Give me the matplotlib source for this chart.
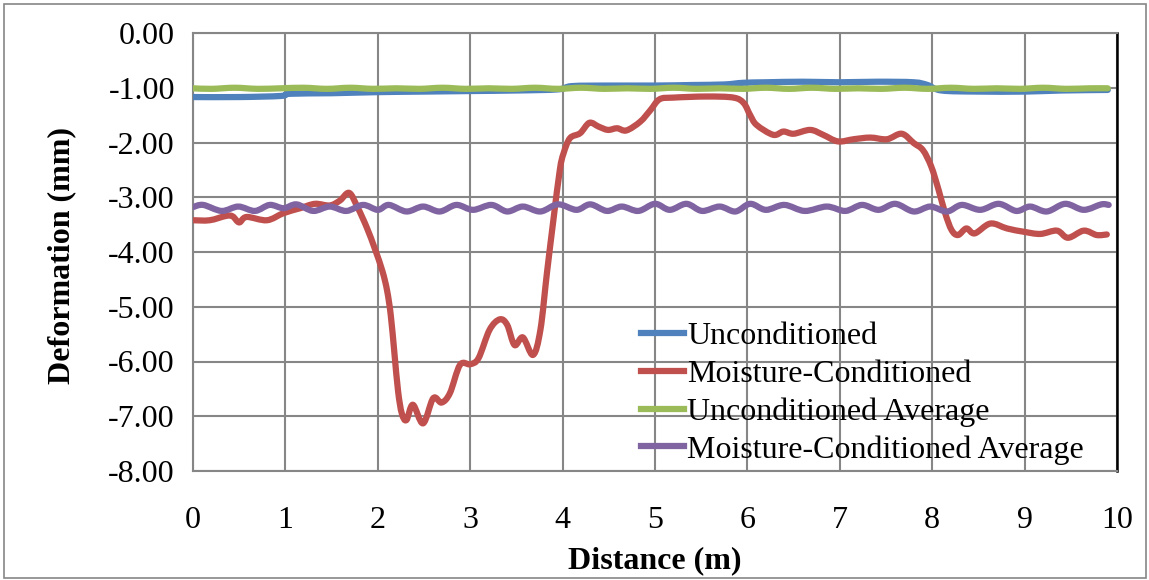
import matplotlib
matplotlib.use("Agg")
import matplotlib.pyplot as plt
import numpy as np
from matplotlib.path import Path
from matplotlib.patches import PathPatch, Rectangle
from matplotlib.lines import Line2D

# ---- data -------------------------------------------------------------
unc_x = [0.0, 0.5, 0.95, 1.05, 1.5, 2.0, 2.5, 3.0, 3.5, 3.95, 4.1, 4.5, 5.0,
         5.4, 5.75, 5.95, 6.2, 6.6, 7.0, 7.4, 7.8, 7.95, 8.1, 8.5, 9.0, 9.4, 9.9]
unc_y = [-1.17, -1.17, -1.15, -1.11, -1.10, -1.08, -1.07, -1.06, -1.05, -1.03,
         -0.97, -0.96, -0.96, -0.95, -0.94, -0.91, -0.90, -0.89, -0.90, -0.89,
         -0.90, -0.95, -1.05, -1.07, -1.07, -1.05, -1.04]

moist_x = [0.00, 0.18, 0.36, 0.43, 0.50, 0.58, 0.80, 0.98, 1.16, 1.32, 1.48,
           1.59, 1.69, 1.78, 1.88, 1.97, 2.05, 2.10, 2.14, 2.18, 2.22, 2.26,
           2.31, 2.38, 2.49, 2.60, 2.69, 2.78, 2.89, 3.00, 3.09, 3.21, 3.32,
           3.40, 3.48, 3.57, 3.68, 3.76, 3.83, 3.90, 3.97, 4.01, 4.08, 4.19,
           4.29, 4.39, 4.49, 4.59, 4.69, 4.84, 4.95, 5.05, 5.20, 5.56, 5.85,
           5.96, 6.03, 6.10, 6.28, 6.39, 6.50, 6.68, 6.82, 6.98, 7.15, 7.33,
           7.51, 7.67, 7.80, 7.90, 7.99, 8.07, 8.14, 8.21, 8.28, 8.37, 8.46,
           8.63, 8.81, 8.99, 9.17, 9.35, 9.47, 9.64, 9.78, 9.89]
moist_y = [-3.42, -3.42, -3.34, -3.35, -3.46, -3.36, -3.42, -3.29, -3.20, -3.12,
           -3.15, -3.06, -2.92, -3.18, -3.55, -3.95, -4.35, -4.70, -5.15, -5.85,
           -6.55, -6.95, -7.07, -6.79, -7.13, -6.67, -6.75, -6.58, -6.06, -6.05,
           -5.94, -5.42, -5.23, -5.33, -5.70, -5.56, -5.88, -5.42, -4.39, -3.42,
           -2.50, -2.20, -1.92, -1.83, -1.64, -1.71, -1.77, -1.74, -1.78, -1.62,
           -1.41, -1.21, -1.18, -1.16, -1.18, -1.28, -1.50, -1.68, -1.86, -1.80,
           -1.84, -1.77, -1.86, -1.98, -1.94, -1.91, -1.94, -1.84, -2.01, -2.14,
           -2.44, -2.87, -3.29, -3.60, -3.69, -3.57, -3.66, -3.48, -3.57, -3.63,
           -3.67, -3.61, -3.74, -3.61, -3.69, -3.68]

unc_avg_x = [0.0, 0.2, 0.45, 0.7, 0.95, 1.2, 1.45, 1.7, 1.95, 2.2, 2.45, 2.7,
             2.95, 3.2, 3.45, 3.7, 3.95, 4.2, 4.45, 4.7, 4.95, 5.2, 5.45, 5.7,
             5.95, 6.2, 6.45, 6.7, 6.95, 7.2, 7.45, 7.7, 7.95, 8.2, 8.45, 8.7,
             8.95, 9.2, 9.45, 9.7, 9.9]
unc_avg_y = [-1.01, -1.02, -1.00, -1.02, -1.01, -1.00, -1.02, -1.00, -1.02,
             -1.01, -1.02, -1.00, -1.02, -1.01, -1.02, -1.00, -1.02, -1.00,
             -1.02, -1.01, -1.02, -1.00, -1.02, -1.01, -1.02, -1.00, -1.02,
             -1.00, -1.02, -1.01, -1.02, -1.00, -1.02, -1.00, -1.02, -1.01,
             -1.02, -1.00, -1.02, -1.01, -1.01]

moist_avg_x = [0.0, 0.11, 0.31, 0.49, 0.67, 0.83, 0.98, 1.12, 1.30, 1.48, 1.66,
               1.84, 2.00, 2.12, 2.31, 2.49, 2.67, 2.85, 3.03, 3.23, 3.40, 3.57,
               3.76, 3.95, 4.15, 4.30, 4.48, 4.64, 4.82, 5.00, 5.16, 5.34, 5.51,
               5.70, 5.87, 6.03, 6.20, 6.40, 6.62, 6.86, 7.06, 7.24, 7.42, 7.60,
               7.80, 7.98, 8.16, 8.32, 8.52, 8.72, 8.91, 9.06, 9.24, 9.44, 9.64,
               9.83, 9.91]
moist_avg_y = [-3.18, -3.14, -3.25, -3.17, -3.25, -3.14, -3.20, -3.13, -3.25,
               -3.17, -3.25, -3.14, -3.23, -3.14, -3.26, -3.17, -3.26, -3.14,
               -3.23, -3.14, -3.26, -3.17, -3.26, -3.13, -3.23, -3.13, -3.25,
               -3.17, -3.25, -3.12, -3.23, -3.12, -3.25, -3.17, -3.26, -3.12,
               -3.23, -3.14, -3.25, -3.17, -3.25, -3.14, -3.23, -3.12, -3.26,
               -3.17, -3.26, -3.14, -3.23, -3.12, -3.25, -3.17, -3.26, -3.12,
               -3.23, -3.13, -3.14]

series_names = ["Unconditioned", "Moisture-Conditioned",
                "Unconditioned Average", "Moisture-Conditioned Average"]
series_colors = ["#4F81BD", "#C0504D", "#9BBB59", "#8064A2"]

x_ticks = list(range(0, 11))
y_ticks = [0.0, -1.0, -2.0, -3.0, -4.0, -5.0, -6.0, -7.0, -8.0]

# ---- style ------------------------------------------------------------
plt.rcParams["font.family"] = ["Liberation Serif", "DejaVu Serif"]
plt.rcParams["font.size"] = 23.0
plt.rcParams["axes.unicode_minus"] = False

W, H = 1149, 580
fig = plt.figure(figsize=(W / 100, H / 100), dpi=100)
fig.patch.set_facecolor("white")
ax = fig.add_axes([193 / W, 1 - 471 / H, (1117 - 193) / W, (471 - 33) / H])


def smooth_path(xs, ys):
    """Cubic Bezier path through the points (smoothed line)."""
    pts = np.column_stack([xs, ys]).astype(float)
    n = len(pts)
    verts = [pts[0]]
    codes = [Path.MOVETO]
    for i in range(n - 1):
        p0 = pts[i - 1] if i > 0 else pts[i]
        p1 = pts[i]
        p2 = pts[i + 1]
        p3 = pts[i + 2] if i + 2 < n else pts[i + 1]
        c1 = p1 + (p2 - p0) / 6.0
        c2 = p2 - (p3 - p1) / 6.0
        verts += [c1, c2, p2]
        codes += [Path.CURVE4] * 3
    return Path(verts, codes)


LW = 4.5
all_series = [(unc_x, unc_y), (moist_x, moist_y),
              (unc_avg_x, unc_avg_y), (moist_avg_x, moist_avg_y)]
handles = []
for k, ((xs, ys), name, col) in enumerate(zip(all_series, series_names, series_colors)):
    patch = PathPatch(smooth_path(xs, ys), facecolor="none", edgecolor=col,
                      lw=LW, capstyle="round", joinstyle="round", zorder=3 + k)
    ax.add_patch(patch)
    handles.append(Line2D([], [], color=col, lw=LW, label=name))

ax.set_xlim(0, 10)
ax.set_ylim(-8, 0)
ax.set_xticks(x_ticks)
ax.set_yticks(y_ticks)
ax.set_yticklabels([f"{v:.2f}" for v in y_ticks])
ax.tick_params(axis="both", length=0, colors="black")
ax.tick_params(axis="y", pad=13)
ax.tick_params(axis="x", pad=25)

ax.grid(True, color="#868686", lw=1.5)
ax.set_axisbelow(True)
for side in ["left", "bottom", "top"]:
    ax.spines[side].set_color("#868686")
    ax.spines[side].set_linewidth(1.5)
ax.spines["right"].set_color("black")
ax.spines["right"].set_linewidth(1.8)

fig.text(62 / W, 1 - 256 / H, "Deformation (mm)", rotation=90, ha="center",
         va="center", fontweight="bold")
fig.text(655 / W, 1 - 561 / H, "Distance (m)", ha="center", va="center",
         fontweight="bold")

ax.legend(handles=handles, loc="upper left",
          bbox_to_anchor=(641 / W, 1 - 322 / H), bbox_transform=fig.transFigure,
          frameon=False, borderpad=0, borderaxespad=0, handlelength=1.35,
          handletextpad=0.1, labelspacing=0.26)

fig.patches.append(Rectangle((4 / W, 2 / H), (1146 - 4) / W, (576 - 2) / H,
                             transform=fig.transFigure, fill=False,
                             edgecolor="#868686", lw=1.2))

fig.savefig("out.png", dpi=100)
